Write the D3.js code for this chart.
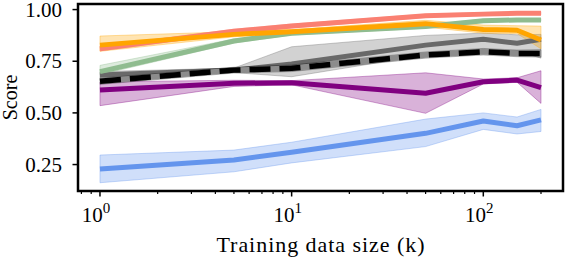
<!DOCTYPE html>
<html>
<head>
<meta charset="utf-8">
<script src="https://cdn.jsdelivr.net/npm/d3@7"></script>
<style>
  html, body { margin: 0; padding: 0; background: #fff; }
  svg { display: block; }
  text { font-family: "Liberation Serif", "DejaVu Serif", serif; fill: #000; }
</style>
</head>
<body>
<div id="chart"></div>
<script>
// Training data sizes (k)
const sizes = [1, 5, 10, 50, 100, 150, 200];

// Series: mean line and band (low / high)
const redMean   = [0.810, 0.895, 0.920, 0.970, 0.978, 0.982, 0.982];
const redLow    = [0.800, 0.885, 0.910, 0.962, 0.970, 0.975, 0.975];
const redHigh   = [0.822, 0.905, 0.930, 0.978, 0.986, 0.990, 0.990];

const orangeMean = [0.828, 0.880, 0.893, 0.932, 0.904, 0.900, 0.853];
const orangeLow  = [0.798, 0.868, 0.885, 0.915, 0.886, 0.884, 0.810];
const orangeHigh = [0.872, 0.893, 0.903, 0.948, 0.925, 0.922, 0.920];

const greenMean = [0.700, 0.848, 0.885, 0.918, 0.946, 0.950, 0.950];
const greenLow  = [0.685, 0.838, 0.877, 0.910, 0.939, 0.943, 0.943];
const greenHigh = [0.730, 0.858, 0.893, 0.926, 0.953, 0.957, 0.957];

const grayMean = [0.683, 0.707, 0.737, 0.828, 0.856, 0.837, 0.856];
const grayLow  = [0.668, 0.695, 0.675, 0.780, 0.800, 0.800, 0.765];
const grayHigh = [0.700, 0.717, 0.820, 0.875, 0.886, 0.878, 0.880];

const blackMean = [0.653, 0.707, 0.716, 0.780, 0.796, 0.788, 0.788];
const blackLow  = [0.638, 0.693, 0.700, 0.765, 0.780, 0.772, 0.770];
const blackHigh = [0.668, 0.721, 0.732, 0.795, 0.812, 0.804, 0.806];

const purpleMean = [0.611, 0.643, 0.646, 0.595, 0.651, 0.659, 0.622];
const purpleLow  = [0.535, 0.628, 0.636, 0.498, 0.640, 0.648, 0.546];
const purpleHigh = [0.650, 0.658, 0.656, 0.694, 0.664, 0.670, 0.704];

const blueMean = [0.228, 0.272, 0.310, 0.401, 0.461, 0.438, 0.466];
const blueLow  = [0.162, 0.215, 0.258, 0.337, 0.420, 0.398, 0.410];
const blueHigh = [0.296, 0.320, 0.358, 0.470, 0.500, 0.480, 0.517];

const yTicks = [0.25, 0.50, 0.75, 1.00];
const xTicks = [1, 10, 100];
const xMinorTicks = [0.8, 0.9, 2, 3, 4, 5, 6, 7, 8, 9, 20, 30, 40, 50, 60, 70, 80, 90, 200];

// drawing order: bottom first
const series = [
    { mean: blueMean,   low: blueLow,   high: blueHigh,   color: "#6495ed" },
    { mean: purpleMean, low: purpleLow, high: purpleHigh, color: "#800080" },
    { mean: grayMean,   low: grayLow,   high: grayHigh,   color: "#696969" },
    { mean: greenMean,  low: greenLow,  high: greenHigh,  color: "#8fbc8f" },
    { mean: redMean,    low: redLow,    high: redHigh,    color: "#fa8072" },
    { mean: orangeMean, low: orangeLow, high: orangeHigh, color: "#ffa500" }
];

const W = 568, H = 263;
const margin = { top: 4, right: 5, bottom: 72, left: 78 };
const innerW = W - margin.left - margin.right;
const innerH = H - margin.top - margin.bottom;

const svg = d3.select("#chart").append("svg")
    .attr("width", W).attr("height", H);

const g = svg.append("g")
    .attr("transform", `translate(${margin.left},${margin.top})`);

const x = d3.scaleLog().domain([0.768, 260.5]).range([0, innerW]);
const y = d3.scaleLinear().domain([0.122, 1.027]).range([innerH, 0]);

svg.append("defs").append("clipPath").attr("id", "clip")
    .append("rect").attr("width", innerW).attr("height", innerH);

const plot = g.append("g").attr("clip-path", "url(#clip)");

const area = (lo, hi) => d3.area()
    .x((d, i) => x(sizes[i]))
    .y0((d, i) => y(lo[i]))
    .y1((d, i) => y(hi[i]))(sizes);

const line = vals => d3.line()
    .x((d, i) => x(sizes[i]))
    .y((d, i) => y(vals[i]))(sizes);

// bands
series.forEach(s => {
    plot.append("path")
        .attr("d", area(s.low, s.high))
        .attr("fill", s.color).attr("fill-opacity", 0.3)
        .attr("stroke", s.color).attr("stroke-opacity", 0.35).attr("stroke-width", 1);
});

// mean lines
series.forEach(s => {
    plot.append("path")
        .attr("d", line(s.mean))
        .attr("fill", "none")
        .attr("stroke", s.color).attr("stroke-width", 5)
        .attr("stroke-linejoin", "round");
});

// black dashed mean with gray underlay
plot.append("path")
    .attr("d", area(blackLow, blackHigh))
    .attr("fill", "#000").attr("fill-opacity", 0.2)
    .attr("stroke", "#000").attr("stroke-opacity", 0.25).attr("stroke-width", 1);
plot.append("path")
    .attr("d", line(blackMean))
    .attr("fill", "none").attr("stroke", "#8c8c8c").attr("stroke-width", 5.5);
plot.append("path")
    .attr("d", line(blackMean))
    .attr("fill", "none").attr("stroke", "#000").attr("stroke-width", 5.5)
    .attr("stroke-dasharray", "21,9");

// x axis
const xAxis = g.append("g").attr("transform", `translate(0,${innerH})`);
xAxis.selectAll(".minor").data(xMinorTicks).enter()
    .append("line")
    .attr("x1", d => x(d)).attr("x2", d => x(d))
    .attr("y1", 0).attr("y2", 3)
    .attr("stroke", "#000").attr("stroke-width", 1.2);
xAxis.selectAll(".major").data(xTicks).enter()
    .append("line")
    .attr("x1", d => x(d)).attr("x2", d => x(d))
    .attr("y1", 0).attr("y2", 5.5)
    .attr("stroke", "#000").attr("stroke-width", 1.5);
const xl = xAxis.selectAll(".xlabel").data(xTicks).enter()
    .append("text")
    .attr("x", d => x(d) - 4).attr("y", 31)
    .attr("text-anchor", "middle")
    .style("font-size", "21px");
xl.append("tspan").text("10");
xl.append("tspan").attr("dy", -9).style("font-size", "15px")
    .text(d => Math.round(Math.log10(d)));

// y axis
const yAxis = g.append("g");
yAxis.selectAll(".ytick").data(yTicks).enter()
    .append("line")
    .attr("x1", -5.5).attr("x2", 0)
    .attr("y1", d => y(d)).attr("y2", d => y(d))
    .attr("stroke", "#000").attr("stroke-width", 1.5);
yAxis.selectAll(".ylabel").data(yTicks).enter()
    .append("text")
    .attr("x", -16).attr("y", d => y(d) + 7)
    .attr("text-anchor", "end")
    .style("font-size", "21px")
    .text(d => d.toFixed(2));

// frame
g.append("rect")
    .attr("width", innerW).attr("height", innerH)
    .attr("fill", "none").attr("stroke", "#000").attr("stroke-width", 2.5);

// axis titles
svg.append("text")
    .attr("x", margin.left + innerW / 2).attr("y", 252)
    .attr("text-anchor", "middle")
    .attr("textLength", 208).attr("lengthAdjust", "spacing")
    .style("font-size", "22px")
    .text("Training data size (k)");

svg.append("text")
    .attr("transform", `translate(17,${margin.top + innerH / 2}) rotate(-90)`)
    .attr("text-anchor", "middle")
    .style("font-size", "20px")
    .text("Score");
</script>
</body>
</html>
